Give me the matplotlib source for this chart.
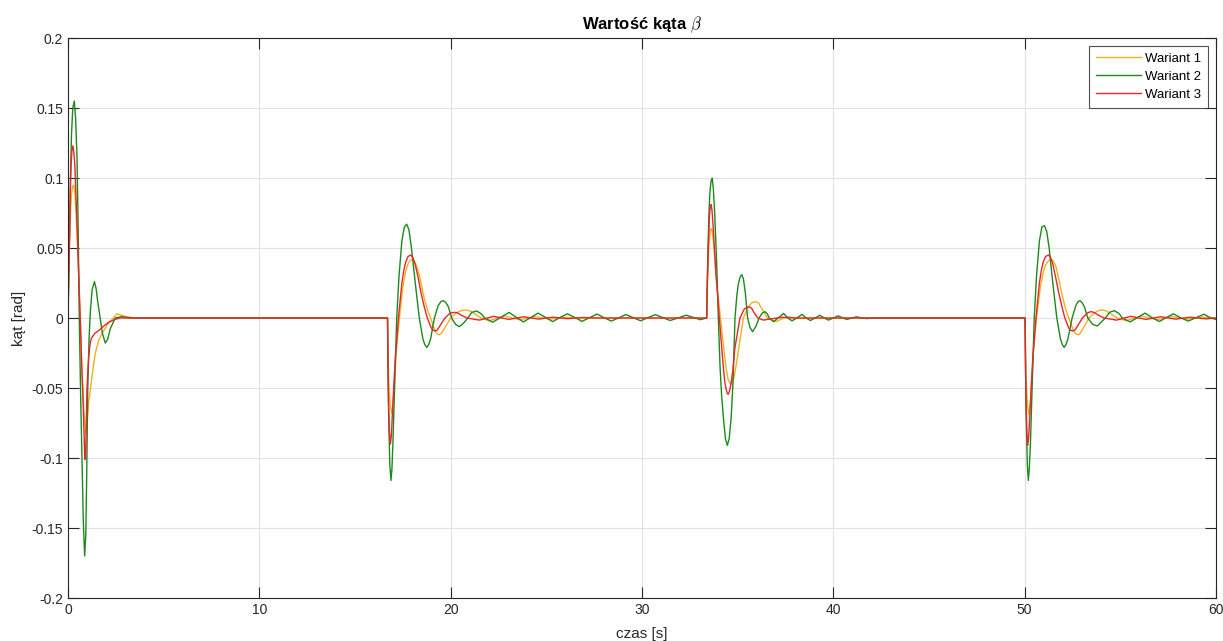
import matplotlib
matplotlib.use("Agg")
import matplotlib.pyplot as plt

# ---------------- data ----------------
t_w1 = [0, 0.04, 0.08, 0.13, 0.18, 0.24, 0.30, 0.36, 0.42, 0.49, 0.56, 0.65, 0.73, 0.80, 0.85, 0.90, 0.94, 0.98,
        1.02, 1.08, 1.17, 1.3, 1.43, 1.6, 1.78, 2.05, 2.3, 2.56, 3.0, 3.6,
        16.70, 16.73, 16.76, 16.84, 16.92, 16.97, 17.02, 17.08, 17.15, 17.32, 17.5, 17.63, 17.75, 17.88,
        18.01, 18.13, 18.25, 18.42, 18.6, 18.78, 18.95, 19.15, 19.27, 19.39, 19.52, 19.65, 19.82,
        20.0, 20.2, 20.4, 20.62, 20.84, 21.05, 21.25, 21.6, 22.0, 22.8, 23.6, 24.4, 25.2, 26.0, 26.8, 27.6,
        33.38, 33.42, 33.46, 33.5, 33.55, 33.6, 33.64, 33.70, 33.76, 33.9, 34.1, 34.3, 34.4, 34.5, 34.6,
        34.69, 34.78, 34.85, 34.95, 35.05, 35.3, 35.55, 35.75, 35.96, 36.1, 36.25, 36.55, 37.0, 37.6, 38.2, 39.0,
        50.02, 50.05, 50.08, 50.15, 50.22, 50.27, 50.32, 50.38, 50.45, 50.62, 50.82, 50.96, 51.1, 51.25,
        51.41, 51.53, 51.65, 51.8, 51.98, 52.15, 52.3, 52.52, 52.65, 52.77, 52.9, 53.03, 53.2,
        53.35, 53.55, 53.75, 53.92, 54.1, 54.3, 54.5, 54.85, 55.3, 56.1, 56.9, 57.7, 58.5, 59.3, 60.0]
y_w1 = [0, 0.03, 0.05, 0.075, 0.088, 0.094, 0.095, 0.089, 0.075, 0.055, 0.03, -0.005, -0.039, -0.06, -0.07, -0.078, -0.082, -0.079,
        -0.07, -0.06, -0.051, -0.037, -0.025, -0.016, -0.011, -0.005, -0.001, 0.003, 0.001, 0,
        0, -0.025, -0.045, -0.062, -0.068, -0.064, -0.055, -0.042, -0.025, 0.0, 0.022, 0.032, 0.038, 0.041,
        0.042, 0.040, 0.036, 0.027, 0.015, 0.006, 0.0, -0.008, -0.011, -0.012, -0.011, -0.008, -0.004,
        0.0, 0.0025, 0.0045, 0.0055, 0.0057, 0.0048, 0.003, 0.0, -0.002, 0.0015, -0.0012, 0.001, -0.0008, 0.0006, -0.0004, 0,
        0, 0.025, 0.04, 0.052, 0.06, 0.0635, 0.064, 0.059, 0.05, 0.025, 0.0, -0.025, -0.036, -0.044, -0.0465,
        -0.047, -0.044, -0.04, -0.031, -0.022, 0.0, 0.008, 0.011, 0.0117, 0.0105, 0.007, 0.0, -0.0026, 0.001, -0.0004, 0,
        0, -0.025, -0.045, -0.063, -0.069, -0.064, -0.055, -0.042, -0.025, 0.0, 0.022, 0.032, 0.038, 0.041,
        0.042, 0.040, 0.036, 0.027, 0.015, 0.006, 0.0, -0.008, -0.011, -0.012, -0.011, -0.008, -0.004,
        0.0, 0.0025, 0.0045, 0.0055, 0.0057, 0.0048, 0.003, 0.0, -0.002, 0.0015, -0.0012, 0.001, -0.0008, 0.0006, 0]

t_w2 = [0, 0.04, 0.08, 0.13, 0.18, 0.25, 0.33, 0.40, 0.47, 0.53, 0.59, 0.66, 0.73, 0.80, 0.87, 0.93, 0.98, 1.03,
        1.10, 1.17, 1.26, 1.38, 1.47, 1.55, 1.68, 1.8, 1.95, 2.08, 2.2, 2.47, 2.8, 3.3,
        16.70, 16.73, 16.76, 16.82, 16.88, 16.93, 16.98, 17.08, 17.18, 17.3, 17.45, 17.58, 17.70, 17.82,
        17.95, 18.15, 18.36, 18.55, 18.65, 18.75, 18.85, 18.95, 19.15, 19.35, 19.5, 19.62, 19.75, 19.88,
        20.05, 20.25, 20.45, 20.65, 20.9, 21.1, 21.36, 21.6, 21.78, 22.2, 22.63, 23.05, 23.43, 23.8, 24.2,
        24.57, 24.95, 25.33, 25.7, 26.1, 26.5, 26.87, 27.25, 27.65, 28.0, 28.4, 28.8, 29.15, 29.55,
        29.93, 30.3, 30.7, 31.1, 31.47, 31.9, 32.3, 32.7, 33.05,
        33.38, 33.42, 33.45, 33.5, 33.55, 33.61, 33.67, 33.73, 33.80, 33.9, 33.99, 34.08, 34.16, 34.26,
        34.36, 34.46, 34.56, 34.66, 34.76, 34.86, 34.95, 35.03, 35.12, 35.21, 35.3, 35.4, 35.52, 35.65,
        35.78, 35.95, 36.12, 36.28, 36.43, 36.55, 36.65, 36.87, 37.12, 37.4, 37.62, 37.84, 38.1, 38.36,
        38.58, 38.8, 39.05, 39.3, 39.52, 39.75, 40.0, 40.25, 40.7, 41.2, 41.7, 42.2,
        50.02, 50.05, 50.08, 50.14, 50.19, 50.24, 50.30, 50.40, 50.50, 50.62, 50.77, 50.90, 51.03, 51.15,
        51.28, 51.47, 51.68, 51.87, 51.97, 52.06, 52.16, 52.26, 52.48, 52.68, 52.8, 52.89, 53.0, 53.12,
        53.3, 53.55, 53.80, 54.0, 54.22, 54.45, 54.69, 54.95, 55.1, 55.51, 55.9, 56.29, 56.65, 57.04,
        57.4, 57.77, 58.15, 58.55, 58.95, 59.37, 59.7, 60.0]
y_w2 = [0, 0.035, 0.06, 0.1, 0.13, 0.15, 0.155, 0.142, 0.115, 0.065, 0.0, -0.055, -0.099, -0.145, -0.170, -0.155, -0.11, -0.052,
        -0.015, 0.005, 0.02, 0.026, 0.021, 0.012, 0.0, -0.011, -0.0179, -0.015, -0.008, 0.0, 0.001, 0.0,
        0, -0.04, -0.07, -0.105, -0.116, -0.108, -0.09, -0.045, 0.0, 0.03, 0.055, 0.065, 0.067, 0.063,
        0.05, 0.025, 0.0, -0.015, -0.019, -0.021, -0.019, -0.015, 0.0, 0.009, 0.0118, 0.0124, 0.011, 0.008,
        0.0, -0.0045, -0.0062, -0.004, 0.0, 0.004, 0.005, 0.003, 0.0, -0.003, 0.0005, 0.004, 0.0005, -0.0028, 0.0005,
        0.0035, 0.0005, -0.0026, 0.0003, 0.003, 0.0003, -0.0024, 0.0002, 0.0028, 0.0003, -0.0022, 0.0002, 0.0025, 0.0002,
        -0.002, 0.0002, 0.0024, 0.0002, -0.0018, 0.0001, 0.002, 0.0003, -0.0012,
        0, 0.03, 0.05, 0.075, 0.09, 0.098, 0.100, 0.092, 0.075, 0.04, 0.0, -0.035, -0.055, -0.072,
        -0.086, -0.091, -0.086, -0.071, -0.045, 0.0, 0.015, 0.024, 0.029, 0.031, 0.028, 0.018, 0.0, -0.007,
        -0.0098, -0.006, 0.0, 0.0035, 0.0045, 0.003, 0.0, -0.0026, 0.0, 0.0033, 0.0, -0.002, 0.0, 0.0026,
        0.0, -0.0018, 0.0, 0.002, 0.0, -0.0015, 0.0, 0.0015, -0.001, 0.0008, -0.0004, 0,
        0, -0.04, -0.07, -0.105, -0.116, -0.108, -0.09, -0.045, 0.0, 0.03, 0.055, 0.065, 0.066, 0.062,
        0.05, 0.025, 0.0, -0.015, -0.019, -0.021, -0.019, -0.015, 0.0, 0.009, 0.0118, 0.0124, 0.011, 0.008,
        0.0, -0.0045, -0.0057, -0.003, 0.0, 0.0042, 0.0052, 0.003, 0.0, -0.0028, 0.0003, 0.0035, 0.0003, -0.0025,
        0.0003, 0.003, 0.0002, -0.0022, 0.0002, 0.0027, 0.0002, -0.001]

t_w3 = [0, 0.04, 0.08, 0.12, 0.16, 0.21, 0.26, 0.31, 0.36, 0.47, 0.56, 0.65, 0.72, 0.77, 0.84, 0.87, 0.89, 0.92,
        0.94, 0.99, 1.04, 1.08, 1.15, 1.22, 1.4, 1.6, 1.85, 2.12, 2.45, 2.74,
        16.70, 16.72, 16.75, 16.8, 16.85, 16.9, 16.95, 17.02, 17.1, 17.27, 17.45, 17.55, 17.65, 17.78,
        17.91, 18.03, 18.15, 18.3, 18.45, 18.62, 18.78, 18.98, 19.08, 19.18, 19.3, 19.42, 19.7, 19.95,
        20.1, 20.23, 20.38, 20.55, 20.85, 21.5, 22.25, 23.05, 23.8, 24.6, 25.35, 26.1, 26.9, 27.6,
        33.38, 33.41, 33.45, 33.52, 33.57, 33.61, 33.66, 33.72, 33.85, 34.04, 34.25, 34.33, 34.4, 34.46,
        34.51, 34.58, 34.65, 34.75, 34.85, 35.12, 35.35, 35.48, 35.61, 35.73, 35.85, 36.05, 36.35, 36.8, 37.3, 38.0,
        50.02, 50.04, 50.07, 50.12, 50.16, 50.21, 50.27, 50.34, 50.42, 50.59, 50.77, 50.87, 50.97, 51.1,
        51.24, 51.36, 51.48, 51.62, 51.78, 51.95, 52.1, 52.3, 52.4, 52.51, 52.63, 52.75, 53.02, 53.27,
        53.4, 53.5, 53.65, 53.85, 54.15, 54.8, 55.55, 56.35, 57.1, 57.9, 58.65, 59.45, 60.0]
y_w3 = [0, 0.03, 0.06, 0.09, 0.11, 0.12, 0.123, 0.118, 0.108, 0.068, 0.03, -0.004, -0.035, -0.051, -0.085, -0.097, -0.101, -0.097,
        -0.085, -0.051, -0.037, -0.028, -0.019, -0.0145, -0.011, -0.009, -0.006, -0.003, -0.001, 0.0,
        0, -0.03, -0.06, -0.082, -0.090, -0.084, -0.07, -0.05, -0.03, 0.0, 0.025, 0.034, 0.040, 0.044,
        0.045, 0.043, 0.038, 0.029, 0.018, 0.008, 0.0, -0.007, -0.0087, -0.0093, -0.0085, -0.006, 0.0, 0.0032,
        0.0039, 0.004, 0.0036, 0.002, 0.0, -0.0015, 0.0012, -0.001, 0.0009, -0.0008, 0.0006, -0.0005, 0.0004, 0,
        0, 0.025, 0.045, 0.072, 0.079, 0.081, 0.077, 0.065, 0.035, 0.0, -0.035, -0.046, -0.051, -0.054,
        -0.0545, -0.052, -0.047, -0.037, -0.022, 0.0, 0.0065, 0.0076, 0.008, 0.007, 0.004, 0.0, -0.0015, -0.0005, 0.0005, 0,
        0, -0.03, -0.06, -0.083, -0.091, -0.085, -0.07, -0.05, -0.03, 0.0, 0.025, 0.034, 0.040, 0.044,
        0.045, 0.043, 0.038, 0.029, 0.018, 0.008, 0.0, -0.007, -0.0087, -0.0093, -0.0085, -0.006, 0.0, 0.0035,
        0.0043, 0.0045, 0.0038, 0.002, 0.0, -0.0015, 0.0012, -0.001, 0.0009, -0.0008, 0.0006, -0.0006, 0]

series_names = ["Wariant 1", "Wariant 2", "Wariant 3"]
series_colors = ["#EDB120", "#1B8A1B", "#E8262B"]

x_ticks = [0, 10, 20, 30, 40, 50, 60]
y_ticks = [-0.2, -0.15, -0.1, -0.05, 0, 0.05, 0.1, 0.15, 0.2]
y_tick_labels = ["-0.2", "-0.15", "-0.1", "-0.05", "0", "0.05", "0.1", "0.15", "0.2"]

title_text = "Wartość kąta $\\beta$"
x_label = "czas [s]"
y_label = "kąt [rad]"

# ---------------- plotting ----------------
plt.rcParams["font.family"] = ["Liberation Sans", "DejaVu Sans"]
plt.rcParams["mathtext.fontset"] = "cm"

fig = plt.figure(figsize=(12.23, 6.41), dpi=100)
ax = fig.add_axes([68 / 1223, 1 - 598 / 641, (1216 - 68) / 1223, (598 - 38) / 641])

for (t, y), name, col in zip([(t_w1, y_w1), (t_w2, y_w2), (t_w3, y_w3)], series_names, series_colors):
    ax.plot(t, y, color=col, lw=1.0, label=name, solid_joinstyle="round")

ax.set_xlim(0, 60)
ax.set_ylim(-0.2, 0.2)
ax.set_xticks(x_ticks)
ax.set_xticklabels([str(v) for v in x_ticks])
ax.set_yticks(y_ticks)
ax.set_yticklabels(y_tick_labels)

ax.grid(True, color="#e2e2e2", lw=0.8)
ax.set_axisbelow(True)
for s in ax.spines.values():
    s.set_color("#262626")
    s.set_linewidth(0.8)
ax.tick_params(direction="in", length=8, width=0.8, colors="#262626", labelsize=10,
               top=True, right=True, labelcolor="#262626")

ax.set_title(title_text, fontsize=12, fontweight="bold", color="black", pad=6)
ax.set_xlabel(x_label, fontsize=11, color="#262626", labelpad=7)
ax.set_ylabel(y_label, fontsize=11, color="#262626", labelpad=4)

leg = ax.legend(loc="upper right", fontsize=9.5, frameon=True, fancybox=False,
                handlelength=3.4, handletextpad=0.35, borderpad=0.5, labelspacing=0.45,
                borderaxespad=0.6)
leg.get_frame().set_edgecolor("#262626")
leg.get_frame().set_linewidth(0.8)

fig.savefig("out.png", dpi=100)
